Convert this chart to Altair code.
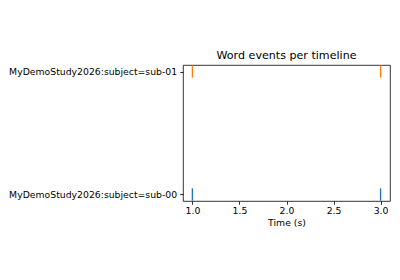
import altair as alt
import pandas as pd

timelines = ["MyDemoStudy2026:subject=sub-00", "MyDemoStudy2026:subject=sub-01"]
event_times_sub00 = [1.0, 3.0]
event_times_sub01 = [1.0, 3.0]
colors = ["#1f77b4", "#ff7f0e"]

rows = []
for i, times in enumerate([event_times_sub00, event_times_sub01]):
    for t in times:
        rows.append({"timeline": timelines[i], "row": i, "time": t})
df = pd.DataFrame(rows)

label_expr = " : ".join(
    [f"datum.value == {i} ? '{name}'" for i, name in enumerate(timelines)]
) + " : ''"

font = "DejaVu Sans"

chart = (
    alt.Chart(df)
    .transform_calculate(lo="datum.row - 0.05", hi="datum.row + 0.05")
    .mark_rule(strokeWidth=1.4)
    .encode(
        x=alt.X(
            "time:Q",
            scale=alt.Scale(domain=[0.9, 3.1], nice=False, zero=False),
            axis=alt.Axis(
                title="Time (s)",
                values=[1.0, 1.5, 2.0, 2.5, 3.0],
                format=".1f",
                grid=False,
                domain=False,
                tickColor="black",
                tickSize=3.3,
                tickWidth=0.8,
                labelFont=font,
                labelFontSize=9.3,
                labelColor="black",
                labelPadding=2,
                titleFont=font,
                titleFontSize=9.3,
                titleFontWeight="normal",
                titleColor="black",
                titlePadding=3,
            ),
        ),
        y=alt.Y(
            "lo:Q",
            scale=alt.Scale(domain=[-0.053, 1.053], nice=False, zero=False),
            axis=alt.Axis(
                title=None,
                values=[0, 1],
                labelExpr=label_expr,
                labelLimit=0,
                grid=False,
                domain=False,
                tickColor="black",
                tickSize=3.3,
                tickWidth=0.8,
                labelFont=font,
                labelFontSize=9.3,
                labelColor="black",
                labelPadding=3,
            ),
        ),
        y2="hi:Q",
        color=alt.Color(
            "timeline:N",
            scale=alt.Scale(domain=timelines, range=colors),
            legend=None,
        ),
    )
    .properties(
        width=207,
        height=136,
        background="white",
        title=alt.TitleParams(
            "Word events per timeline",
            font=font,
            fontSize=11.1,
            fontWeight="normal",
            color="black",
            anchor="middle",
            offset=4,
        ),
        autosize=alt.AutoSizeParams(type="none"),
        padding={"left": 183, "top": 65, "right": 10, "bottom": 79},
    )
    .configure_view(stroke="black", strokeWidth=0.8)
)

chart.save("out.html", embed_options={"renderer": "svg", "actions": False})
